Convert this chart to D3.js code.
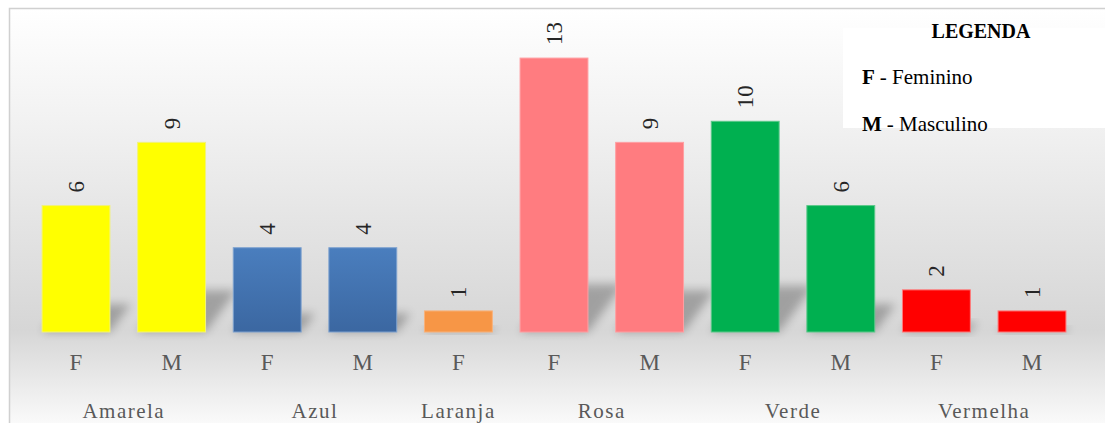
<!DOCTYPE html>
<html>
<head>
<meta charset="utf-8">
<script src="https://cdn.jsdelivr.net/npm/d3@7"></script>
<style>
  html, body { margin: 0; padding: 0; background: #ffffff; }
  svg { display: block; }
</style>
</head>
<body>
<svg id="chart" width="1105" height="423"></svg>
<script>
// Cor preferida por sexo
const categories = ["Amarela", "Amarela", "Azul", "Azul", "Laranja", "Rosa", "Rosa", "Verde", "Verde", "Vermelha", "Vermelha"];
const sexes = ["F", "M", "F", "M", "F", "F", "M", "F", "M", "F", "M"];
const values = [6, 9, 4, 4, 1, 13, 9, 10, 6, 2, 1];
const groupNames = ["Amarela", "Azul", "Laranja", "Rosa", "Verde", "Vermelha"];
const groupColors = ["#ffff00", "url(#blueFill)", "#f79646", "#ff7c80", "#00b050", "#ff0000"];
const groupEdges = ["#f2f27a", "#7ea2cf", "#f9b27a", "#ff9fa2", "#5cc98a", "#ff7a7a"];
const legendTitle = "LEGENDA";
const legendKeys = ["F", "M"];
const legendNames = ["- Feminino", "- Masculino"];

const W = 1105, H = 423;
const SERIF = "'Liberation Serif', 'Times New Roman', serif";
const svg = d3.select("#chart");
const defs = svg.append("defs");

// background: white at top, grey around the baseline, fading back to white
const bg = defs.append("linearGradient").attr("id", "bgGrad")
  .attr("x1", 0).attr("y1", 0).attr("x2", 0).attr("y2", 1);
bg.append("stop").attr("offset", "0%").attr("stop-color", "#ffffff");
bg.append("stop").attr("offset", "28%").attr("stop-color", "#f1f1f1");
bg.append("stop").attr("offset", "76%").attr("stop-color", "#d6d6d6");
bg.append("stop").attr("offset", "86%").attr("stop-color", "#e6e6e6");
bg.append("stop").attr("offset", "100%").attr("stop-color", "#fdfdfd");

const blue = defs.append("linearGradient").attr("id", "blueFill")
  .attr("x1", 0).attr("y1", 0).attr("x2", 0).attr("y2", 1);
blue.append("stop").attr("offset", "0%").attr("stop-color", "#4a7ebe");
blue.append("stop").attr("offset", "100%").attr("stop-color", "#3b67a1");

const blur = defs.append("filter").attr("id", "shadowBlur")
  .attr("x", "-50%").attr("y", "-50%").attr("width", "200%").attr("height", "200%");
blur.append("feGaussianBlur").attr("stdDeviation", 5);

// chart frame
svg.append("rect").attr("x", 9.5).attr("y", 8.5).attr("width", W).attr("height", H)
  .attr("fill", "url(#bgGrad)").attr("stroke", "#d0d0d0").attr("stroke-width", 1.5);

const idx = d3.range(values.length);
const x = d3.scaleBand().domain(idx).range([28.2, 1079.8])
  .paddingInner(0.29).paddingOuter(0.145);
const y = d3.scaleLinear().domain([0, 14]).range([332, 37]);
const colorOf = i => groupColors[groupNames.indexOf(categories[i])];
const edgeOf = i => groupEdges[groupNames.indexOf(categories[i])];

// perspective shadows behind bars
svg.append("g").selectAll("path").data(idx).join("path")
  .attr("d", i => {
    const x0 = x(i), x1 = x(i) + x.bandwidth(), b = y(0);
    const h = Math.min((y(0) - y(values[i])) * 0.22, 48);
    const s = h * 0.75;
    return `M${x0},${b} L${x1},${b} L${x1 + s},${b - h} L${x0 + s},${b - h} Z`;
  })
  .attr("fill", "#000").attr("opacity", 0.26)
  .attr("filter", "url(#shadowBlur)");

// bars
svg.append("g").selectAll("rect").data(idx).join("rect")
  .attr("x", i => x(i))
  .attr("y", i => y(values[i]))
  .attr("width", x.bandwidth())
  .attr("height", i => y(0) - y(values[i]))
  .attr("fill", colorOf)
  .attr("stroke", edgeOf).attr("stroke-width", 1);

// value labels, rotated
svg.append("g").selectAll("text").data(idx).join("text")
  .attr("transform", i => `translate(${x(i) + x.bandwidth() / 2 + 8},${y(values[i]) - 13}) rotate(-90)`)
  .attr("text-anchor", "start")
  .attr("font-family", SERIF)
  .attr("font-size", 23)
  .attr("fill", "#262626")
  .text(i => values[i]);

// sex tick labels
const xAxis = d3.axisBottom(x).tickSize(0).tickPadding(0).tickFormat(i => sexes[i]);
const ax = svg.append("g").attr("transform", "translate(0,370)").call(xAxis);
ax.select(".domain").remove();
ax.selectAll("text")
  .attr("dy", 0).attr("y", 0)
  .attr("font-family", SERIF)
  .attr("font-size", 23)
  .attr("fill", "#595959");

// colour group labels
const groups = groupNames.map(g => {
  const members = idx.filter(i => categories[i] === g);
  return { name: g, cx: d3.mean(members, i => x(i) + x.bandwidth() / 2) };
});
svg.append("g").selectAll("text").data(groups).join("text")
  .attr("x", d => d.cx).attr("y", 418)
  .attr("text-anchor", "middle")
  .attr("font-family", SERIF)
  .attr("font-size", 21)
  .attr("letter-spacing", 1.5)
  .attr("fill", "#595959")
  .text(d => d.name);

// legend box
svg.append("rect").attr("x", 843).attr("y", 28).attr("width", W - 843).attr("height", 100)
  .attr("fill", "#ffffff");
const lg = svg.append("g");
lg.append("text").attr("x", 981).attr("y", 38).attr("text-anchor", "middle")
  .attr("font-family", SERIF).attr("fill", "#000")
  .attr("font-size", 20).attr("font-weight", "bold").text(legendTitle);
legendKeys.forEach((key, k) => {
  const yy = 84 + k * 47;
  const keyText = lg.append("text").attr("x", 862).attr("y", yy)
    .attr("font-family", SERIF).attr("font-size", 21).attr("font-weight", "bold")
    .attr("fill", "#000").text(key);
  const w = keyText.node().getComputedTextLength();
  lg.append("text").attr("x", 862 + w + 5).attr("y", yy)
    .attr("font-family", SERIF).attr("font-size", 21).attr("font-style", "normal")
    .attr("fill", "#000").text(legendNames[k]);
});
</script>
</body>
</html>
